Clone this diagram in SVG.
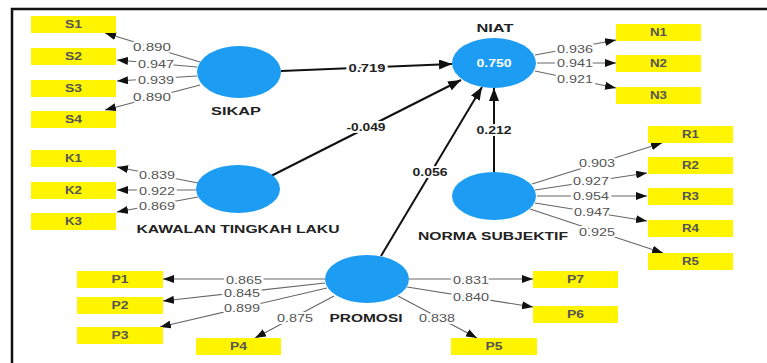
<svg xmlns="http://www.w3.org/2000/svg" width="767" height="363" viewBox="0 0 767 363">
<style>
.ind rect{fill:#FFF500}
.ind text{font-family:"Liberation Sans",Arial,sans-serif;font-size:10px;font-weight:bold;fill:#555;text-anchor:middle;dominant-baseline:central}
.lv ellipse{fill:#1C9CF2}
.lvl{font-family:"Liberation Sans",Arial,sans-serif;font-size:11px;font-weight:bold;fill:#222;text-anchor:middle;dominant-baseline:central}
.ld{stroke:#666;stroke-width:1.1;fill:none}
.pt{stroke:#111;stroke-width:2;fill:none}
.lt{font-family:"Liberation Sans",Arial,sans-serif;font-size:11px;fill:#555;text-anchor:middle;dominant-baseline:central;stroke:#fff;stroke-width:4;paint-order:stroke}
.pc{font-family:"Liberation Sans",Arial,sans-serif;font-size:11px;font-weight:bold;fill:#222;text-anchor:middle;dominant-baseline:central;stroke:#fff;stroke-width:4;paint-order:stroke}
</style>
<defs>
<marker id="a" markerUnits="userSpaceOnUse" markerWidth="12" markerHeight="8" refX="11" refY="4" orient="auto"><path d="M0,0 L11,4 L0,8 Z" fill="#111"/></marker>
<marker id="b" markerUnits="userSpaceOnUse" markerWidth="14" markerHeight="10" refX="13" refY="5" orient="auto"><path d="M0,0 L13,5 L0,10 Z" fill="#111"/></marker>
</defs>
<rect width="767" height="363" fill="#fff"/>
<path d="M11,9 H767 M12,8 V363" stroke="#111" stroke-width="2.5" fill="none"/>

<g id="connectors">
<line class="ld" x1="200" y1="62" x2="105" y2="33" marker-end="url(#a)"/>
<line class="ld" x1="197" y1="67" x2="117" y2="60" marker-end="url(#a)"/>
<line class="ld" x1="197" y1="76" x2="117" y2="81" marker-end="url(#a)"/>
<line class="ld" x1="200" y1="85" x2="105" y2="110" marker-end="url(#a)"/>
<line class="ld" x1="198" y1="183" x2="117" y2="167" marker-end="url(#a)"/>
<line class="ld" x1="196" y1="190" x2="117" y2="190" marker-end="url(#a)"/>
<line class="ld" x1="198" y1="197" x2="117" y2="212" marker-end="url(#a)"/>
<line class="ld" x1="535" y1="55" x2="616" y2="40" marker-end="url(#a)"/>
<line class="ld" x1="537" y1="63" x2="616" y2="63" marker-end="url(#a)"/>
<line class="ld" x1="535" y1="71" x2="616" y2="88" marker-end="url(#a)"/>
<line class="ld" x1="532" y1="184" x2="662" y2="143" marker-end="url(#a)"/>
<line class="ld" x1="535" y1="190" x2="647" y2="173" marker-end="url(#a)"/>
<line class="ld" x1="537" y1="196" x2="647" y2="196" marker-end="url(#a)"/>
<line class="ld" x1="535" y1="203" x2="647" y2="221" marker-end="url(#a)"/>
<line class="ld" x1="530" y1="209" x2="663" y2="253" marker-end="url(#a)"/>
<line class="ld" x1="325" y1="279" x2="163" y2="279" marker-end="url(#a)"/>
<line class="ld" x1="325" y1="283" x2="163" y2="301" marker-end="url(#a)"/>
<line class="ld" x1="327" y1="288" x2="160" y2="327" marker-end="url(#a)"/>
<line class="ld" x1="334" y1="296" x2="255" y2="338" marker-end="url(#a)"/>
<line class="ld" x1="409" y1="279" x2="533" y2="279" marker-end="url(#a)"/>
<line class="ld" x1="407" y1="287" x2="533" y2="307" marker-end="url(#a)"/>
<line class="ld" x1="398" y1="296" x2="477" y2="338" marker-end="url(#a)"/>
<line class="pt" x1="281" y1="71" x2="452" y2="64" marker-end="url(#b)"/>
<line class="pt" x1="271" y1="176" x2="461" y2="80" marker-end="url(#b)"/>
<line class="pt" x1="381" y1="256" x2="482" y2="87" marker-end="url(#b)"/>
<line class="pt" x1="494" y1="172" x2="494" y2="88" marker-end="url(#b)"/>

<text class="lt" x="152" y="47" textLength="38" lengthAdjust="spacingAndGlyphs">0.890</text>
<text class="lt" x="156" y="64" textLength="36" lengthAdjust="spacingAndGlyphs">0.947</text>
<text class="lt" x="156" y="80" textLength="36" lengthAdjust="spacingAndGlyphs">0.939</text>
<text class="lt" x="152" y="97" textLength="38" lengthAdjust="spacingAndGlyphs">0.890</text>
<text class="lt" x="157" y="175" textLength="36" lengthAdjust="spacingAndGlyphs">0.839</text>
<text class="lt" x="157" y="191" textLength="36" lengthAdjust="spacingAndGlyphs">0.922</text>
<text class="lt" x="157" y="206" textLength="36" lengthAdjust="spacingAndGlyphs">0.869</text>
<text class="lt" x="575" y="49" textLength="36" lengthAdjust="spacingAndGlyphs">0.936</text>
<text class="lt" x="575" y="63" textLength="36" lengthAdjust="spacingAndGlyphs">0.941</text>
<text class="lt" x="575" y="79" textLength="36" lengthAdjust="spacingAndGlyphs">0.921</text>
<text class="lt" x="597" y="163" textLength="36" lengthAdjust="spacingAndGlyphs">0.903</text>
<text class="lt" x="591" y="181" textLength="36" lengthAdjust="spacingAndGlyphs">0.927</text>
<text class="lt" x="591" y="196" textLength="36" lengthAdjust="spacingAndGlyphs">0.954</text>
<text class="lt" x="592" y="212" textLength="36" lengthAdjust="spacingAndGlyphs">0.947</text>
<text class="lt" x="597" y="232" textLength="36" lengthAdjust="spacingAndGlyphs">0.925</text>
<text class="lt" x="244" y="280" textLength="36" lengthAdjust="spacingAndGlyphs">0.865</text>
<text class="lt" x="242" y="293" textLength="36" lengthAdjust="spacingAndGlyphs">0.845</text>
<text class="lt" x="242" y="308" textLength="36" lengthAdjust="spacingAndGlyphs">0.899</text>
<text class="lt" x="295" y="318" textLength="36" lengthAdjust="spacingAndGlyphs">0.875</text>
<text class="lt" x="471" y="280" textLength="36" lengthAdjust="spacingAndGlyphs">0.831</text>
<text class="lt" x="471" y="297" textLength="36" lengthAdjust="spacingAndGlyphs">0.840</text>
<text class="lt" x="437" y="318" textLength="36" lengthAdjust="spacingAndGlyphs">0.838</text>
<text class="pc" x="367" y="68" textLength="37" lengthAdjust="spacingAndGlyphs">0.719</text>
<text class="pc" x="366" y="127" textLength="39" lengthAdjust="spacingAndGlyphs">-0.049</text>
<text class="pc" x="430" y="172" textLength="35" lengthAdjust="spacingAndGlyphs">0.056</text>
<text class="pc" x="494" y="130" textLength="35" lengthAdjust="spacingAndGlyphs">0.212</text>
</g>

<g id="S1" class="ind"><rect x="31" y="16" width="85" height="17"/><text x="73.5" y="24.5" textLength="17" lengthAdjust="spacingAndGlyphs">S1</text></g>
<g id="S2" class="ind"><rect x="31" y="48" width="85" height="17"/><text x="73.5" y="56.5" textLength="17" lengthAdjust="spacingAndGlyphs">S2</text></g>
<g id="S3" class="ind"><rect x="31" y="80" width="85" height="17"/><text x="73.5" y="88.5" textLength="17" lengthAdjust="spacingAndGlyphs">S3</text></g>
<g id="S4" class="ind"><rect x="31" y="111" width="85" height="17"/><text x="73.5" y="119.5" textLength="17" lengthAdjust="spacingAndGlyphs">S4</text></g>
<g id="K1" class="ind"><rect x="31" y="150" width="85" height="17"/><text x="73.5" y="158.5" textLength="17" lengthAdjust="spacingAndGlyphs">K1</text></g>
<g id="K2" class="ind"><rect x="31" y="182" width="85" height="17"/><text x="73.5" y="190.5" textLength="17" lengthAdjust="spacingAndGlyphs">K2</text></g>
<g id="K3" class="ind"><rect x="31" y="213" width="85" height="17"/><text x="73.5" y="221.5" textLength="17" lengthAdjust="spacingAndGlyphs">K3</text></g>
<g id="N1" class="ind"><rect x="616" y="24" width="85" height="17"/><text x="658.5" y="32.5" textLength="17" lengthAdjust="spacingAndGlyphs">N1</text></g>
<g id="N2" class="ind"><rect x="616" y="55" width="85" height="17"/><text x="658.5" y="63.5" textLength="17" lengthAdjust="spacingAndGlyphs">N2</text></g>
<g id="N3" class="ind"><rect x="616" y="87" width="85" height="17"/><text x="658.5" y="95.5" textLength="17" lengthAdjust="spacingAndGlyphs">N3</text></g>
<g id="R1" class="ind"><rect x="648" y="126" width="85" height="17"/><text x="690.5" y="134.5" textLength="17" lengthAdjust="spacingAndGlyphs">R1</text></g>
<g id="R2" class="ind"><rect x="648" y="157" width="85" height="17"/><text x="690.5" y="165.5" textLength="17" lengthAdjust="spacingAndGlyphs">R2</text></g>
<g id="R3" class="ind"><rect x="648" y="188" width="85" height="17"/><text x="690.5" y="196.5" textLength="17" lengthAdjust="spacingAndGlyphs">R3</text></g>
<g id="R4" class="ind"><rect x="648" y="220" width="85" height="17"/><text x="690.5" y="228.5" textLength="17" lengthAdjust="spacingAndGlyphs">R4</text></g>
<g id="R5" class="ind"><rect x="648" y="253" width="85" height="17"/><text x="690.5" y="261.5" textLength="17" lengthAdjust="spacingAndGlyphs">R5</text></g>
<g id="P1" class="ind"><rect x="77" y="271" width="86" height="17"/><text x="120" y="279.5" textLength="17" lengthAdjust="spacingAndGlyphs">P1</text></g>
<g id="P2" class="ind"><rect x="77" y="297" width="86" height="17"/><text x="120" y="305.5" textLength="17" lengthAdjust="spacingAndGlyphs">P2</text></g>
<g id="P3" class="ind"><rect x="77" y="327" width="86" height="17"/><text x="120" y="335.5" textLength="17" lengthAdjust="spacingAndGlyphs">P3</text></g>
<g id="P4" class="ind"><rect x="196" y="338" width="85" height="17"/><text x="238.5" y="346.5" textLength="17" lengthAdjust="spacingAndGlyphs">P4</text></g>
<g id="P5" class="ind"><rect x="451" y="338" width="86" height="17"/><text x="494" y="346.5" textLength="17" lengthAdjust="spacingAndGlyphs">P5</text></g>
<g id="P6" class="ind"><rect x="533" y="306" width="85" height="17"/><text x="575.5" y="314.5" textLength="17" lengthAdjust="spacingAndGlyphs">P6</text></g>
<g id="P7" class="ind"><rect x="533" y="271" width="85" height="17"/><text x="575.5" y="279.5" textLength="17" lengthAdjust="spacingAndGlyphs">P7</text></g>

<g id="SIKAP" class="lv"><ellipse cx="239" cy="72" rx="42" ry="26"/><text class="lvl" x="236" y="111" textLength="50" lengthAdjust="spacingAndGlyphs">SIKAP</text></g>
<g id="KAWALAN" class="lv"><ellipse cx="238" cy="189" rx="42" ry="24"/><text class="lvl" x="238" y="229" textLength="203" lengthAdjust="spacingAndGlyphs">KAWALAN TINGKAH LAKU</text></g>
<g id="NIAT" class="lv"><ellipse cx="494" cy="63" rx="42" ry="25"/><text class="lvl" x="495" y="28" textLength="37" lengthAdjust="spacingAndGlyphs">NIAT</text><text class="lvl" x="494" y="63" style="fill:#fff" textLength="35" lengthAdjust="spacingAndGlyphs">0.750</text></g>
<g id="NORMA" class="lv"><ellipse cx="494" cy="196" rx="42" ry="24"/><text class="lvl" x="493" y="236" textLength="150" lengthAdjust="spacingAndGlyphs">NORMA SUBJEKTIF</text></g>
<g id="PROMOSI" class="lv"><ellipse cx="367" cy="279" rx="42" ry="24"/><text class="lvl" x="366" y="318" textLength="73" lengthAdjust="spacingAndGlyphs">PROMOSI</text></g>
</svg>
